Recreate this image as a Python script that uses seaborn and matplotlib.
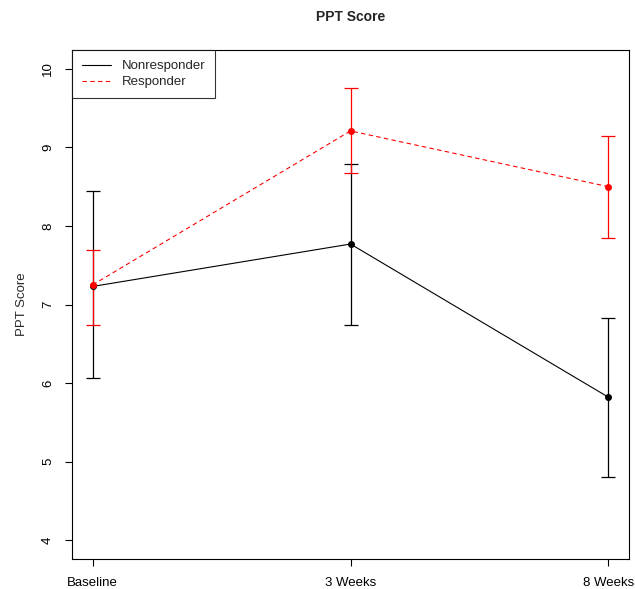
import numpy as np
import pandas as pd
import matplotlib
matplotlib.use('Agg')
import matplotlib.pyplot as plt
import seaborn as sns

# values
timepoints = ['Baseline', '3 Weeks', '8 Weeks']
groups = ['Nonresponder', 'Responder']
nonresp_mean = [7.23, 7.77, 5.82]
nonresp_low = [6.06, 6.74, 4.81]
nonresp_high = [8.45, 8.79, 6.83]
resp_mean = [7.25, 9.21, 8.50]
resp_low = [6.74, 8.67, 7.85]
resp_high = [7.70, 9.75, 9.15]

df = pd.DataFrame({
    'time': list(range(1, 4)) * 2,
    'score': nonresp_mean + resp_mean,
    'low': nonresp_low + resp_low,
    'high': nonresp_high + resp_high,
    'group': [groups[0]] * 3 + [groups[1]] * 3,
})

sns.set_style('ticks')
plt.rcParams['font.family'] = ['Liberation Sans', 'DejaVu Sans']

colors = {'Nonresponder': 'black', 'Responder': 'red'}
dashes = {'Nonresponder': '', 'Responder': (4, 3)}

fig = plt.figure(figsize=(6.35, 5.89), dpi=100)
ax = fig.add_axes([0.1134, 0.0509, 0.8772, 0.8642])

sns.lineplot(data=df, x='time', y='score', hue='group', style='group',
             palette=colors, dashes=dashes, linewidth=0.8, ax=ax,
             markers=False, legend=False)

for g in groups:
    sub = df[df['group'] == g]
    yerr = np.vstack([sub['score'] - sub['low'], sub['high'] - sub['score']])
    ax.errorbar(sub['time'], sub['score'], yerr=yerr, fmt='o', color=colors[g],
                markersize=4, elinewidth=0.9, capsize=5, capthick=0.9, zorder=3)

ax.set_xlim(0.92, 3.08)
ax.set_ylim(3.76, 10.24)
ax.set_xticks([1, 2, 3])
ax.set_xticklabels(timepoints, fontsize=9.5)
ax.set_yticks(range(4, 11))
ax.set_yticklabels([str(v) for v in range(4, 11)], fontsize=9.5, rotation=90, va='center')
ax.tick_params(direction='out', length=5, width=0.8, colors='black', pad=8)
for s in ax.spines.values():
    s.set_visible(True)
    s.set_linewidth(0.8)
    s.set_color('black')

ax.set_xlabel('')
ax.set_ylabel('PPT Score', fontsize=9.5, labelpad=10)
ax.set_title('PPT Score', fontsize=10, fontweight='bold', pad=21)

handles = [plt.Line2D([], [], color='black', lw=0.8),
           plt.Line2D([], [], color='red', lw=0.8, dashes=(4, 3))]
leg = ax.legend(handles, groups, loc='upper left', fontsize=9.5, frameon=True,
                fancybox=False, borderaxespad=0, handlelength=2.2,
                handletextpad=0.8, borderpad=0.75, labelspacing=0.3)
leg.get_frame().set_edgecolor('black')
leg.get_frame().set_linewidth(0.8)

fig.savefig('out.png', dpi=100, facecolor='white')
